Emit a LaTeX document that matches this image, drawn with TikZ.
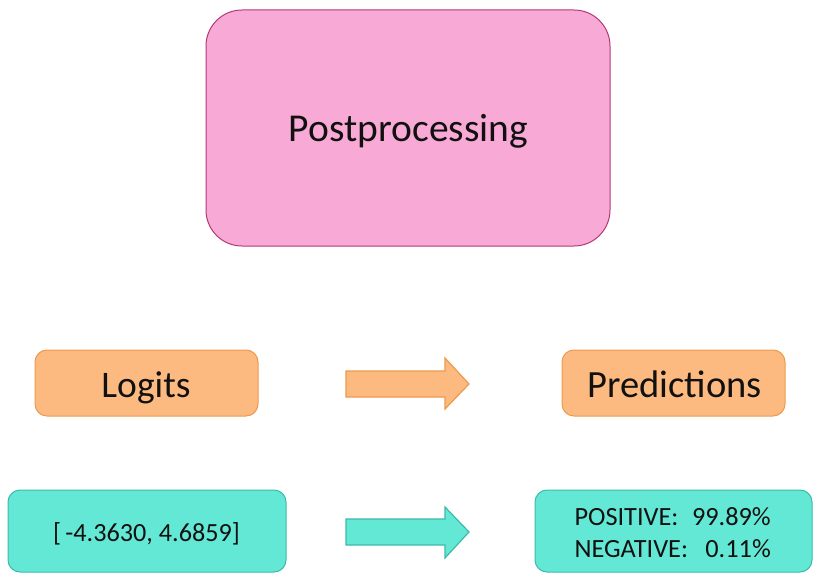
\documentclass[tikz,border=0pt]{standalone}
\usepackage{fontspec}
\setmainfont{Carlito}
\usetikzlibrary{calc}
\definecolor{pinkfill}{HTML}{F9A9D6}
\definecolor{pinkline}{HTML}{B23A77}
\definecolor{orgfill}{HTML}{FDBA80}
\definecolor{orgline}{HTML}{EE9A4E}
\definecolor{tealfill}{HTML}{64E8D6}
\definecolor{tealline}{HTML}{3DBBA9}
\definecolor{txt}{HTML}{111111}
\begin{document}
\begin{tikzpicture}[x=1pt,y=-1pt,
  box/.style={draw, line width=1pt, inner sep=0pt},
  pinkbox/.style={box, fill=pinkfill, draw=pinkline, rounded corners=36pt,
     minimum width=404pt, minimum height=236pt},
  orgbox/.style={box, fill=orgfill, draw=orgline, rounded corners=12pt,
     minimum width=223pt, minimum height=66pt},
  tealbox/.style={box, fill=tealfill, draw=tealline, rounded corners=12pt,
     minimum width=278pt, minimum height=82pt},
  lbl/.style={inner sep=0pt, text=txt, anchor=base},
  blockarrow/.style={line width=1.2pt, line join=miter}
]
\useasboundingbox (0,0) rectangle (822,583);
\fill[white] (0,0) rectangle (822,583);

\node[pinkbox] (post) at (408,128) {};
\node[lbl, font=\fontsize{39.5}{46}\selectfont] (posttxt) at (408.5,142) {Postprocessing};

\node[orgbox] (logits) at (146.5,383) {};
\node[lbl, font=\fontsize{37.5}{44}\selectfont] (logitstxt) at (146,397) {Logits};

\node[orgbox] (pred) at (673.5,383) {};
\node[lbl, font=\fontsize{38.5}{44}\selectfont] (predtxt) at (674.5,397) {Predictions};

\node[tealbox] (vec) at (147,531) {};
\node[lbl, font=\fontsize{26.2}{30}\selectfont] (vectxt) at (146.5,541) {[\,-4.3630, 4.6859]};

\node[tealbox, minimum width=277pt] (probs) at (673.5,531) {};
\node[lbl, anchor=base east, font=\fontsize{26.3}{32}\selectfont] (probstxt) at (771,525)
  {\begin{tabular}[t]{@{}l@{\hspace{4pt}}r@{}}POSITIVE: & 99.89\%\\ NEGATIVE: & 0.11\%\end{tabular}};

% block arrows
\coordinate (oa) at (346,384);
\draw[blockarrow, fill=orgfill, draw=orgline]
  ($(oa)+(0,-13)$) -- ++(99,0) -- ++(0,-13) -- ($(oa)+(123,0)$) -- ($(oa)+(99,25)$) -- ++(0,-12) -- ($(oa)+(0,13)$) -- cycle;
\coordinate (ta) at (346,532);
\draw[blockarrow, fill=tealfill, draw=tealline]
  ($(ta)+(0,-13)$) -- ++(99,0) -- ++(0,-12) -- ($(ta)+(123,0)$) -- ($(ta)+(99,26)$) -- ++(0,-13) -- ($(ta)+(0,13)$) -- cycle;
\end{tikzpicture}
\end{document}
